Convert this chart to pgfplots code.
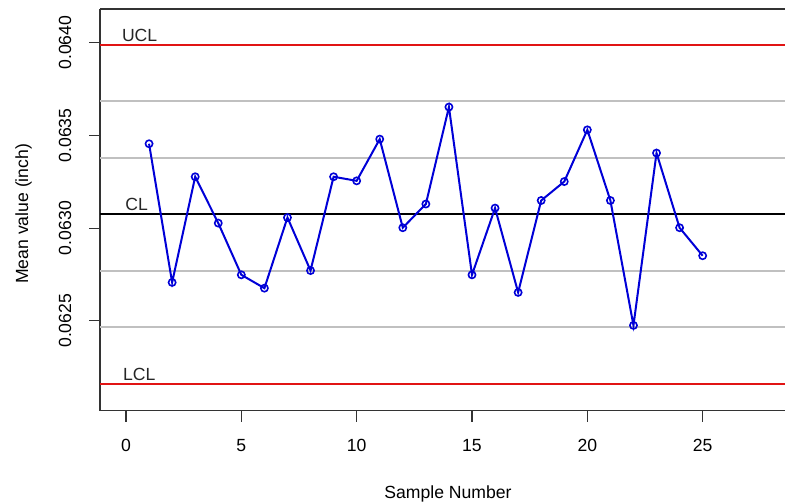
\documentclass[border=0pt]{standalone}
\usepackage{fontspec}
\setmainfont{Liberation Sans}
\usepackage{pgfplots}
\pgfplotsset{compat=1.18}
\definecolor{limred}{RGB}{225,20,20}
\definecolor{sigmagray}{RGB}{192,192,192}
\definecolor{ptblue}{RGB}{0,0,215}

% sample means
\pgfplotstableread{
n mean
1 0.063455
2 0.062707
3 0.063277
4 0.063027
5 0.062748
6 0.062676
7 0.063057
8 0.062771
9 0.063277
10 0.063255
11 0.063480
12 0.063002
13 0.063130
14 0.063653
15 0.062748
16 0.063108
17 0.062653
18 0.063149
19 0.063251
20 0.063530
21 0.063149
22 0.062475
23 0.063405
24 0.063002
25 0.062851
}\means

\begin{document}
\fontsize{8.8}{10.5}\selectfont
\begin{tikzpicture}
\begin{axis}[
  scale only axis, width=342.5pt, height=200.85pt,
  xmin=-1.127, xmax=28.57, ymin=0.062015, ymax=0.064182,
  axis x line=box, axis y line=left, axis line style={-, line width=0.6pt, black!80},
  xtick pos=bottom, ytick pos=left,
  tick align=outside, major tick length=5.4pt,
  tick style={line width=0.6pt, black!80},
  xtick={0,5,...,25}, ytick={0.0625,0.0630,0.0635,0.0640},
  scaled y ticks=false,
  yticklabel={\pgfmathprintnumber[fixed,fixed zerofill,precision=4]{\tick}},
  /pgf/number format/assume math mode=true,
  xticklabel style={anchor=base, yshift=-15pt},
  yticklabel style={rotate=90, anchor=base, yshift=9pt},
  xlabel={Sample Number}, ylabel={Mean value (inch)},
  xlabel style={at={(axis description cs:0.508,-0.218)}, anchor=base},
  ylabel style={at={(axis description cs:-0.105,0.49)}, anchor=base, rotate=0},
  clip=false,
]
\addplot[sigmagray, line width=1pt, forget plot] coordinates {(-1.127,0.063685) (28.57,0.063685)};
\addplot[sigmagray, line width=1pt, forget plot] coordinates {(-1.127,0.063380) (28.57,0.063380)};
\addplot[sigmagray, line width=1pt, forget plot] coordinates {(-1.127,0.062770) (28.57,0.062770)};
\addplot[sigmagray, line width=1pt, forget plot] coordinates {(-1.127,0.062465) (28.57,0.062465)};
\addplot[limred, line width=1pt, forget plot] coordinates {(-1.127,0.063990) (28.57,0.063990)};
\addplot[black, line width=1pt, forget plot] coordinates {(-1.127,0.063075) (28.57,0.063075)};
\addplot[limred, line width=1pt, forget plot] coordinates {(-1.127,0.062160) (28.57,0.062160)};
\addplot[ptblue, line width=1pt, mark=o, mark size=1.8pt, mark options={line width=0.8pt}] table[x=n, y=mean] {\means};
\node[anchor=base west, inner sep=0pt, text=black!85] at (axis cs:-0.19,0.064004) {UCL};
\node[anchor=base west, inner sep=0pt, text=black!85] at (axis cs:-0.04,0.063094) {CL};
\node[anchor=base west, inner sep=0pt, text=black!85] at (axis cs:-0.14,0.062177) {LCL};
\end{axis}
\pgfresetboundingbox
\path[use as bounding box] (-50pt,-45.65pt) rectangle (342.5pt,205.35pt);
\end{tikzpicture}
\end{document}
